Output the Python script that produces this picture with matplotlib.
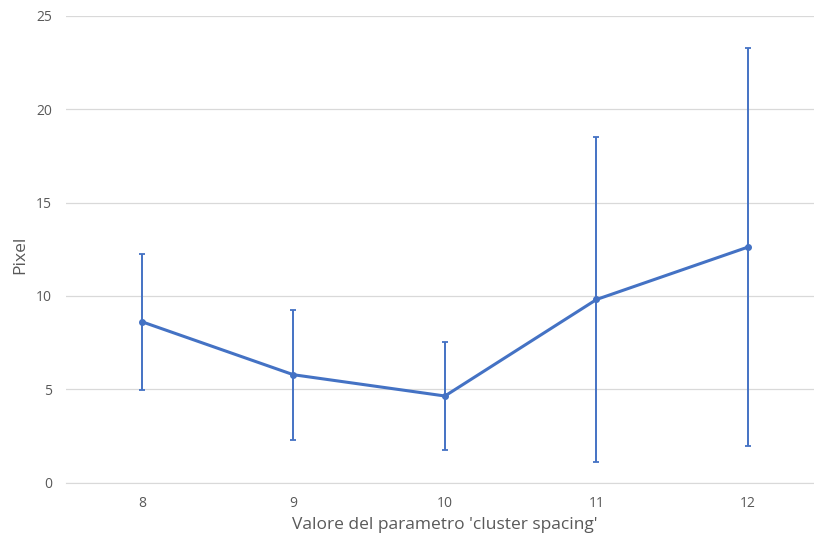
import matplotlib.pyplot as plt

# valori medi e deviazione standard per ogni 'cluster spacing'
spacing = [8, 9, 10, 11, 12]
media = [8.62, 5.78, 4.64, 9.81, 12.62]
dev_std = [3.64, 3.48, 2.88, 8.68, 10.65]

blu = '#4472C4'
grigio = '#595959'
plt.rcParams['font.family'] = ['Open Sans', 'DejaVu Sans']

fig = plt.figure(figsize=(8.14, 5.4), dpi=100)
ax = fig.add_axes([0.0811, 0.1063, 0.931, 0.8641])

ax.errorbar(spacing, media, yerr=dev_std, color=blu, lw=2.2, marker='o', ms=4,
            ecolor=blu, elinewidth=1.4, capsize=2.5, capthick=1.3, zorder=3)

ax.set_xlim(7.5, 12.5)
ax.set_ylim(0, 25)
ax.set_xticks(spacing)
ax.set_yticks(range(0, 26, 5))
ax.grid(axis='y', color='#d9d9d9', lw=0.9)
ax.set_axisbelow(True)
for s in ['top', 'right', 'left']:
    ax.spines[s].set_visible(False)
ax.spines['bottom'].set_color('#d9d9d9')
ax.tick_params(length=0, labelsize=10, labelcolor=grigio)
ax.tick_params(axis='x', pad=10)
ax.tick_params(axis='y', pad=10)

ax.set_xlabel("Valore del parametro 'cluster spacing'", fontsize=12.5, color=grigio, labelpad=4)
ax.set_ylabel('Pixel', fontsize=12.5, color=grigio)
ax.yaxis.set_label_coords(-0.050, 0.488)

fig.savefig('out.png', dpi=100)
